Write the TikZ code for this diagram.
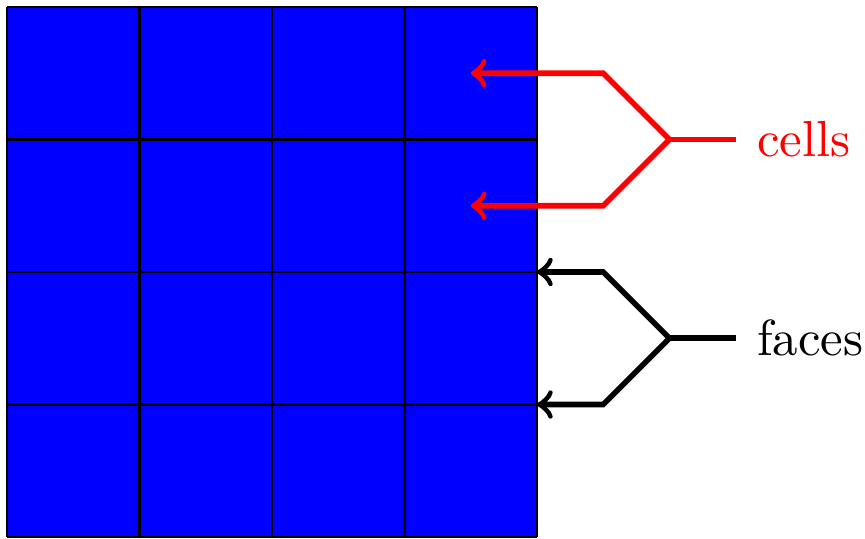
\documentclass[tikz,border=0pt]{standalone}
\begin{document}
\begin{tikzpicture}[x=1cm,y=1cm,
  arr/.style={very thick,->},
  lbl/.style={anchor=west,xshift=1.1pt,font=\fontsize{10.9}{13}\selectfont}]
\useasboundingbox (-0.053,-0.008) rectangle (6.475,4.053);
\fill[blue] (0,0) rectangle (4,4);
\draw[line width=0.6pt] (0,0) grid (4,4);
% cells
\coordinate (ce) at (5.5,3);
\node[lbl,text=red] (cells) at (ce) {cells};
\coordinate (cj) at (5,3);
\coordinate (c1) at (4.5,3.5);
\coordinate (c2) at (4.5,2.5);
\coordinate (ct1) at (3.5,3.5);
\coordinate (ct2) at (3.5,2.5);
\draw[red,very thick] (ce) -- (cj);
\draw[arr,red] (cj) -- (c1) -- (ct1);
\draw[arr,red] (cj) -- (c2) -- (ct2);
% faces
\coordinate (fe) at (5.5,1.5);
\node[lbl] (faces) at (fe) {faces};
\coordinate (fj) at (5,1.5);
\coordinate (f1) at (4.5,2);
\coordinate (f2) at (4.5,1);
\coordinate (ft1) at (4,2);
\coordinate (ft2) at (4,1);
\draw[very thick] (fe) -- (fj);
\draw[arr] (fj) -- (f1) -- (ft1);
\draw[arr] (fj) -- (f2) -- (ft2);
\end{tikzpicture}
\end{document}
